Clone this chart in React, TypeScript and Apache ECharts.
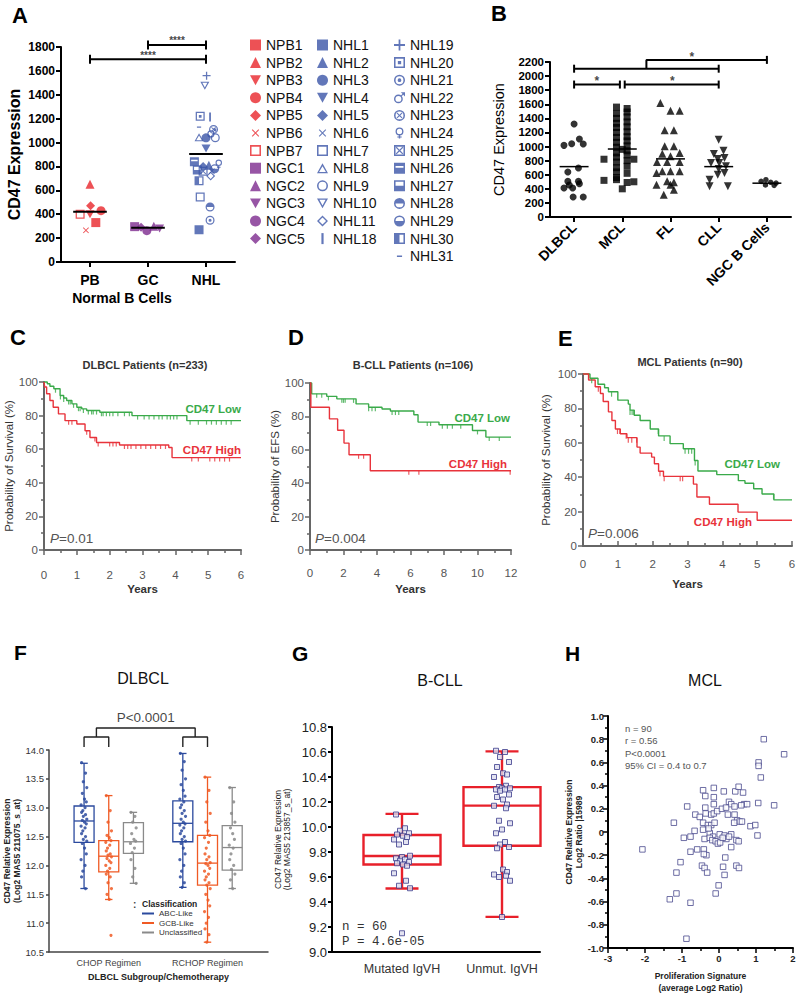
import { useEffect, useRef } from 'react';
import * as echarts from 'echarts';

const FONT = '"Liberation Sans", Arial, Helvetica, sans-serif';
const MONO = '"Liberation Mono", "DejaVu Sans Mono", monospace';
const RED = '#e8333b';
const GREEN = '#3aaa4a';

/* ---------------- Panel A ---------------- */
const A_CATEGORIES = ['PB', 'GC', 'NHL'];
const A_NAMES = ['NPB1', 'NPB2', 'NPB3', 'NPB4', 'NPB5', 'NPB6', 'NPB7', 'NGC1', 'NGC2', 'NGC3', 'NGC4', 'NGC5',
  'NHL1', 'NHL2', 'NHL3', 'NHL4', 'NHL5', 'NHL6', 'NHL7', 'NHL8', 'NHL9', 'NHL10', 'NHL11', 'NHL18',
  'NHL19', 'NHL20', 'NHL21', 'NHL22', 'NHL23', 'NHL24', 'NHL25', 'NHL26', 'NHL27', 'NHL28', 'NHL29', 'NHL30', 'NHL31'];
const A_GROUP = [1, 1, 1, 1, 1, 1, 1, 2, 2, 2, 2, 2, 3, 3, 3, 3, 3, 3, 3, 3, 3, 3, 3, 3, 3, 3, 3, 3, 3, 3, 3, 3, 3, 3, 3, 3, 3];
const A_VALUES = [330, 650, 400, 430, 470, 265, 400, 296, 300, 280, 262, 290,
  270, 810, 1040, 950, 800, 760, 545, 1045, 1040, 1475, 720, 1215,
  1560, 1220, 350, 1080, 1110, 820, 760, 840, 770, 460, 780, 680, 1130];
const A_JITTER = [0.10, 0, 0, 0.19, 0.01, -0.07, -0.17, -0.23, 0.10, 0.20, -0.02, -0.12,
  -0.12, 0.05, 0.0, 0.0, -0.05, 0.10, -0.10, -0.12, 0.16, -0.02, 0.08, 0.07,
  0.01, -0.10, 0.07, 0.10, 0.13, 0.22, -0.05, -0.20, -0.15, 0.07, 0.15, -0.12, -0.12];
const A_SYMBOL: Record<string, string> = {
  NPB1: 'sq', NPB2: 'tri', NPB3: 'dtri', NPB4: 'circ', NPB5: 'dia', NPB6: 'x', NPB7: 'osq',
  NGC1: 'sq', NGC2: 'tri', NGC3: 'dtri', NGC4: 'circ', NGC5: 'dia',
  NHL1: 'sq', NHL2: 'tri', NHL3: 'circ', NHL4: 'dtri', NHL5: 'dia', NHL6: 'x', NHL7: 'osq', NHL8: 'otri',
  NHL9: 'ocirc', NHL10: 'odtri', NHL11: 'odia', NHL18: 'vbar', NHL19: 'plus', NHL20: 'sqdot', NHL21: 'cdot',
  NHL22: 'male', NHL23: 'cx', NHL24: 'female', NHL25: 'sqx', NHL26: 'sq26', NHL27: 'sq27', NHL28: 'c28',
  NHL29: 'c29', NHL30: 'sq30', NHL31: 'hbar',
};
const A_MEANS = [420, 287, 904];
const A_SIG_FROM = [1, 2];
const A_SIG_TO = [3, 3];
const A_SIG_Y = [1697, 1817];
const A_SIG_LABEL = ['****', '****'];
const A_COLORS = ['#e8262b', '#7d2a8e', '#3b55a7'];

/* ---------------- Panel B ---------------- */
const B_CATEGORIES = ['DLBCL', 'MCL', 'FL', 'CLL', 'NGC B Cells'];
const B_DLBCL = [1320, 1017, 1040, 1107, 1036, 639, 695, 506, 506, 454, 473, 412, 412, 284, 284];
const B_DLBCL_JIT = [0.0, -0.21, -0.05, 0.11, 0.19, -0.13, 0.09, -0.13, 0.09, -0.1, 0.11, -0.21, -0.03, -0.02, 0.19];
const B_MCL = [1560, 1470, 1400, 1330, 1270, 1200, 1130, 1060, 990, 910, 850, 780, 700, 640, 560, 530,
  1540, 1490, 1420, 1350, 1280, 1210, 1140, 1080, 1010, 940, 880, 800, 720, 620, 490,
  820, 520, 400, 500, 820, 960];
const B_MCL_JIT = [-0.12, -0.12, -0.12, -0.12, -0.12, -0.12, -0.12, -0.12, -0.12, -0.12, -0.12, -0.12, -0.12, -0.12, -0.12, -0.12,
  0.1, 0.1, 0.1, 0.1, 0.1, 0.1, 0.1, 0.1, 0.1, 0.1, 0.1, 0.1, 0.1, 0.1, 0.1,
  -0.38, -0.38, 0.0, 0.24, 0.24, 0.0];
const B_FL = [1618, 1509, 1509, 1230, 1230, 1003, 1003, 899, 908, 861, 780, 780, 780, 648, 648, 648, 624, 506, 492, 459, 459, 317, 388];
const B_FL_JIT = [-0.21, 0, 0.19, -0.12, 0.07, -0.12, 0.07, -0.17, 0.19, 0, -0.28, -0.07, 0.19, -0.17, 0, 0.19, -0.29, -0.07, 0.07, -0.29, 0, -0.14, 0.07];
const B_CLL = [1098, 894, 941, 823, 837, 766, 766, 719, 681, 624, 600, 530, 435, 435];
const B_CLL_JIT = [0, -0.1, 0.1, -0.02, 0.12, -0.16, 0.01, 0.15, 0, 0.12, -0.02, -0.19, -0.19, 0.19];
const B_NGC = [506, 530, 492, 482, 449, 455];
const B_NGC_JIT = [-0.12, -0.02, 0.08, 0.19, 0.15, -0.03];
const B_MEANS = [715, 965, 825, 715, 480];
const B_SIG = [[0, 0.95, 1880], [1.05, 3, 1880], [0, 3, 2105]];
const B_SIG_LINK = [[1.5, 2105], [1.5, 2230], [4, 2230]];
const B_STARS = [[0.47, 1880], [2.04, 1880], [2.44, 2230]];

/* ---------------- Panels C, D, E (Kaplan-Meier) ---------------- */
const C_LOW = [[0, 100], [0.1, 99], [0.18, 97.5], [0.3, 96], [0.49, 92], [0.6, 90.5], [0.69, 89], [0.85, 87], [1.0, 85], [1.15, 84], [1.3, 83], [1.7, 82], [2.68, 80], [4.35, 77], [6, 77]];
const C_HIGH = [[0, 100], [0.02, 97], [0.08, 93], [0.18, 89], [0.28, 85], [0.44, 81], [0.64, 77], [1.0, 75], [1.25, 71], [1.4, 67], [1.6, 64], [2.3, 62.5], [3.8, 61], [3.9, 55], [6, 55]];
const C_LOW_CENSOR = [0.35, 0.5, 0.6, 0.75, 0.8, 0.9, 1.05, 1.1, 1.2, 1.35, 1.45, 1.5, 1.6, 1.75, 1.8, 1.9, 2.0, 2.1, 2.25, 2.45, 2.6, 2.85, 3.05, 3.2, 3.35, 3.5, 3.6, 3.75, 3.85, 3.95, 4.05, 4.45, 4.7, 4.95, 5.1, 5.25, 5.4, 5.55, 5.7];
const C_HIGH_CENSOR = [0.75, 0.85, 1.3, 1.55, 1.65, 2.0, 2.1, 2.2, 2.45, 2.55, 2.65, 2.8, 2.95, 3.1, 3.25, 3.4, 3.55, 3.7, 4.5, 4.7, 5.05, 5.2, 5.35, 5.5, 5.65];
const D_LOW = [[0, 100], [0.1, 93.5], [1.0, 92], [1.6, 90.5], [2.75, 87.5], [3.5, 85.5], [4.3, 84.4], [4.8, 83.2], [6.2, 81], [6.45, 76.6], [7.7, 75], [9.7, 71.6], [10.5, 67.6], [12, 67.6]];
const D_HIGH = [[0, 100], [0.05, 85.5], [1.16, 78.5], [1.65, 71.7], [2.03, 64], [2.33, 57], [3.6, 47.5], [12, 47.5]];
const D_LOW_CENSOR = [0.4, 0.7, 1.1, 1.9, 2.0, 2.1, 2.6, 3.5, 3.7, 3.9, 4.9, 5.1, 5.3, 7.0, 7.2, 7.9, 8.2, 8.5, 9.0, 10.0, 10.7, 11.3];
const D_HIGH_CENSOR = [2.9, 3.2, 5.9, 6.5, 11.95];
const E_LOW = [[0, 100], [0.2, 97.5], [0.43, 94], [0.62, 92], [0.73, 89.7], [1.0, 84.8], [1.3, 82.5], [1.35, 79], [1.47, 76], [1.64, 73], [1.93, 68], [2.17, 64], [2.5, 59.5], [2.88, 56.5], [3.2, 49.7], [3.3, 43.6], [3.84, 41.5], [4.46, 38], [4.65, 36.5], [4.9, 33.3], [5.14, 30.2], [5.48, 26.8], [6, 26.8]];
const E_HIGH = [[0, 100], [0.16, 96.5], [0.35, 92.6], [0.5, 88.7], [0.58, 84], [0.73, 78], [0.83, 73], [0.93, 68], [1.07, 65.3], [1.26, 63], [1.55, 57.5], [1.64, 54], [1.97, 51.7], [2.05, 47.8], [2.17, 43.5], [2.31, 40.5], [3.17, 36], [3.27, 28.5], [3.63, 24.3], [4.45, 19.7], [5.0, 15], [6, 15]];
const E_LOW_CENSOR = [0.25, 0.82, 1.35, 1.41, 1.46, 2.16, 2.33, 2.93, 3.03, 3.12, 3.22, 5.47];
const E_HIGH_CENSOR = [0.44, 0.99, 1.06, 1.24, 1.3, 1.4, 1.54, 2.21, 2.33, 2.79, 2.86];

/* ---------------- Panel F ---------------- */
const F_CLASSES = ['ABC-Like', 'GCB-Like', 'Unclassified'];
const F_REGIMENS = ['CHOP Regimen', 'RCHOP Regimen'];
const F_COLORS = ['#2b4a9e', '#f05a24', '#8a8a8a'];
// [lower whisker, Q1, median, Q3, upper whisker] for CHOP, RCHOP
const F_BOX_ABC = [[11.60, 12.40, 12.77, 13.03, 13.77], [11.62, 12.41, 12.73, 13.12, 13.94]];
const F_BOX_GCB = [[11.41, 11.89, 12.16, 12.43, 13.21], [10.67, 11.66, 12.04, 12.52, 13.53]];
const F_BOX_UNC = [[11.69, 12.21, 12.41, 12.74, 12.92], [11.60, 11.92, 12.31, 12.69, 13.35]];
const F_DOTS_ABC_CHOP = [13.78, 13.6, 13.45, 13.35, 13.25, 13.15, 13.1, 13.05, 13.0, 12.95, 12.92, 12.88, 12.85, 12.8, 12.78, 12.75, 12.72, 12.68, 12.65, 12.6, 12.55, 12.5, 12.45, 12.42, 12.38, 12.3, 12.2, 12.1, 12.0, 11.9, 11.8, 11.6];
const F_DOTS_GCB_CHOP = [13.21, 12.95, 12.75, 12.6, 12.52, 12.48, 12.43, 12.4, 12.35, 12.3, 12.25, 12.2, 12.18, 12.15, 12.12, 12.08, 12.05, 12.0, 11.95, 11.9, 11.85, 11.8, 11.7, 11.6, 11.5, 11.41, 10.79];
const F_DOTS_UNC_CHOP = [12.92, 12.85, 12.75, 12.65, 12.55, 12.45, 12.42, 12.38, 12.3, 12.22, 12.1, 11.95, 11.8, 11.69];
const F_DOTS_ABC_RCHOP = [13.94, 13.8, 13.65, 13.5, 13.4, 13.3, 13.2, 13.15, 13.1, 13.05, 13.0, 12.95, 12.9, 12.85, 12.8, 12.75, 12.72, 12.7, 12.65, 12.6, 12.55, 12.5, 12.45, 12.42, 12.38, 12.3, 12.2, 12.1, 12.0, 11.9, 11.8, 11.7, 11.62];
const F_DOTS_GCB_RCHOP = [13.53, 13.3, 13.1, 12.9, 12.75, 12.6, 12.52, 12.48, 12.4, 12.3, 12.2, 12.15, 12.1, 12.05, 12.03, 12.0, 11.95, 11.9, 11.85, 11.8, 11.75, 11.7, 11.66, 11.6, 11.5, 11.4, 11.3, 11.2, 11.1, 11.0, 10.9, 10.8, 10.67];
const F_DOTS_UNC_RCHOP = [13.35, 13.1, 12.9, 12.75, 12.65, 12.55, 12.45, 12.35, 12.3, 12.2, 12.1, 12.0, 11.93, 11.85, 11.75, 11.6];
const F_SLOTS = [[1, 5], [2, 6], [3, 7]];
const F_LABEL_SLOTS = [2, 6];
const F_JITTER = [-0.1, 0.06, -0.03, 0.11, -0.07, 0.02, 0.09, -0.12, 0.04, -0.05];

/* ---------------- Panel G ---------------- */
const G_GROUPS = ['Mutated IgVH', 'Unmut. IgVH'];
const G_BOXES = [[9.508, 9.70, 9.768, 9.936, 10.105], [9.281, 9.85, 10.171, 10.319, 10.605]];
const G_MUT = [10.10, 9.99, 9.97, 9.95, 9.94, 9.93, 9.92, 9.90, 9.88, 9.86, 9.77, 9.76, 9.75, 9.74, 9.73, 9.72, 9.71, 9.70, 9.69, 9.63, 9.57, 9.53, 9.51, 9.15];
const G_UNMUT = [10.61, 10.60, 10.56, 10.52, 10.48, 10.43, 10.42, 10.40, 10.33, 10.32, 10.31, 10.31, 10.30, 10.30, 10.29, 10.26, 10.24, 10.22, 10.18, 10.17, 10.15, 10.05, 10.03, 9.98, 9.95, 9.88, 9.86, 9.84, 9.83, 9.66, 9.64, 9.62, 9.61, 9.60, 9.57, 9.28];
const G_JITTER = [-0.06, 0.03, -0.02, 0.07, -0.05, 0.01, 0.05, -0.08, 0.04, -0.03, 0.08, 0.0];

/* ---------------- Panel H ---------------- */
const H_X = [1.21, 1.76, 1.07, 1.07, 1.13, -0.43, -0.14, 0.13, 0.44, 0.53, 0.65, -0.37, -0.14, -0.86, -0.37, -0.14, 0.27, 0.33, 0.42, 0.68,
  0.76, 1.06, 1.49, -0.64, -0.36, -0.21, -0.14, -0.05, 0.08, 0.24, 0.42, 0.49, 0.56, 0.41, 0.62, -1.22, -0.43, -0.30, -0.21, -0.12,
  0.85, 0.98, -0.66, -0.43, -0.25, -0.16, 0.02, 0.15, 0.33, 1.04, -0.95, -0.77, -0.39, -0.25, -0.18, -0.09, -0.03, 0.20, 0.27, 0.47,
  0.53, -2.07, -0.77, -0.59, -0.41, -0.34, 0.33, -1.04, -0.46, -0.39, -0.32, 0.17, 0.11, 0.47, 0.54, -1.15, 0.15, -0.01, -0.09, -1.15,
  -1.33, -0.77, -0.88, -0.41, 0.03, 0.10, -0.28, 0.19, 0.60, -0.52];
const H_Y = [0.80, 0.67, 0.60, 0.57, 0.47, 0.36, 0.38, 0.35, 0.35, 0.39, 0.34, 0.31, 0.30, 0.22, 0.21, 0.24, 0.26, 0.24, 0.22, 0.24,
  0.24, 0.25, 0.23, 0.15, 0.16, 0.15, 0.16, 0.18, 0.20, 0.15, 0.15, 0.10, 0.09, 0.08, 0.09, 0.08, 0.08, 0.06, 0.06, 0.08,
  0.05, 0.06, 0.01, 0.02, -0.01, -0.04, -0.02, -0.03, -0.02, -0.03, -0.05, -0.04, -0.06, -0.05, -0.07, -0.08, -0.10, -0.06, -0.04, -0.07,
  -0.08, -0.15, -0.17, -0.15, -0.15, -0.20, -0.13, -0.26, -0.29, -0.31, -0.35, -0.22, -0.30, -0.29, -0.31, -0.35, -0.37, -0.46, -0.53, -0.53,
  -0.58, -0.61, -0.92, -0.19, -0.09, -0.05, 0.03, 0.21, 0.23, 0.13];

/* ---------------- symbols ---------------- */
const RING = 'M5,0A5,5,0,1,1,5,10A5,5,0,1,1,5,0Z M5,1.4A3.6,3.6,0,1,0,5,8.6A3.6,3.6,0,1,0,5,1.4Z';
const SQ_RING = 'M0,0L10,0L10,10L0,10Z M1.4,1.4L1.4,8.6L8.6,8.6L8.6,1.4Z';
// microscopic corner specks that widen the bounding box so a glyph is drawn smaller within its symbol box
const PAD = 'M-2.5,-2.5L-2.49,-2.5L-2.5,-2.49Z M12.5,12.5L12.49,12.5L12.5,12.49Z ';
const SHAPES: Record<string, string> = {
  sq: 'rect', tri: 'triangle', circ: 'circle', dia: 'diamond',
  dtri: 'path://M0,0L10,0L5,9Z',
  x: 'path://' + PAD + 'M1,0L5,4L9,0L10,1L6,5L10,9L9,10L5,6L1,10L0,9L4,5L0,1Z',
  osq: 'path://' + SQ_RING,
  otri: 'path://M5,0L10,9L0,9Z M5,2.7L1.9,7.9L8.1,7.9Z',
  ocirc: 'path://' + RING,
  odtri: 'path://M0,0L10,0L5,9Z M2.2,1.1L5,6.3L7.8,1.1Z',
  odia: 'path://M5,0L10,5L5,10L0,5Z M5,1.8L1.8,5L5,8.2L8.2,5Z',
  vbar: 'path://M0,0L2,0L2,10L0,10Z',
  plus: 'path://M4.2,0L5.8,0L5.8,4.2L10,4.2L10,5.8L5.8,5.8L5.8,10L4.2,10L4.2,5.8L0,5.8L0,4.2L4.2,4.2Z',
  sqdot: 'path://' + SQ_RING + ' M3.5,3.5L6.5,3.5L6.5,6.5L3.5,6.5Z',
  cdot: 'path://' + RING + ' M5,3.3A1.7,1.7,0,1,1,5,6.7A1.7,1.7,0,1,1,5,3.3Z',
  male: 'path://M4,2A4,4,0,1,1,4,10A4,4,0,1,1,4,2Z M4,3.3A2.7,2.7,0,1,0,4,8.7A2.7,2.7,0,1,0,4,3.3Z M6.3,3L8.6,0.7L9.3,1.4L7,3.7Z M6.2,0L10,0L10,3.8L8.6,2.4L8.6,1.4L7.6,1.4Z',
  cx: 'path://' + RING + ' M3,2.3L5,4.3L7,2.3L7.7,3L5.7,5L7.7,7L7,7.7L5,5.7L3,7.7L2.3,7L4.3,5L2.3,3Z',
  female: 'path://M5,0A3.6,3.6,0,1,1,5,7.2A3.6,3.6,0,1,1,5,0Z M5,1.2A2.4,2.4,0,1,0,5,6A2.4,2.4,0,1,0,5,1.2Z M4.35,7L5.65,7L5.65,10L4.35,10Z M3,8.1L7,8.1L7,9.1L3,9.1Z',
  sqx: 'path://' + SQ_RING + ' M2.4,1.6L5,4.2L7.6,1.6L8.4,2.4L5.8,5L8.4,7.6L7.6,8.4L5,5.8L2.4,8.4L1.6,7.6L4.2,5L1.6,2.4Z',
  sq26: 'path://M0,0L10,0L10,10L0,10Z M1.4,3L1.4,4.6L8.6,4.6L8.6,3Z',
  sq27: 'path://M0,0L10,0L10,10L0,10Z M1.4,1.4L1.4,5L8.6,5L8.6,1.4Z',
  c28: 'path://' + RING + ' M1.4,5A3.6,3.6,0,0,1,8.6,5Z',
  c29: 'path://' + RING + ' M8.6,5A3.6,3.6,0,0,1,1.4,5Z',
  sq30: 'path://' + SQ_RING + ' M1.4,1.4L5,1.4L5,8.6L1.4,8.6Z',
  hbar: 'path://' + PAD + 'M1.5,4L8.5,4L8.5,6L1.5,6Z',
};
const SHAPE_SIZE: Record<string, number> = { plus: 8, vbar: 9 };

/* ---------------- helpers ---------------- */
function stepValue(curve: number[][], t: number) {
  let v = curve[0][1];
  for (const [tt, vv] of curve) { if (tt <= t) v = vv; else break; }
  return v;
}

function segment(idx: number, data: any[], color: string, width: number, extra: any = {}) {
  return {
    type: 'line', xAxisIndex: idx, yAxisIndex: idx, data, symbol: 'none', silent: true, clip: false,
    lineStyle: { color, width }, itemStyle: { color }, z: 5, ...extra,
  };
}

function textMark(idx: number, x: number, y: number, text: string, size: number, weight: string, dist: number) {
  return {
    type: 'scatter', xAxisIndex: idx, yAxisIndex: idx, data: [[x, y]], symbolSize: 0.1, silent: true, clip: false,
    itemStyle: { color: 'rgba(0,0,0,0)' },
    label: { show: true, position: 'top', distance: dist, formatter: text, fontSize: size, fontWeight: weight, color: '#111', fontFamily: FONT },
    z: 6,
  };
}

function kmSeries(idx: number, curve: number[][], censor: number[], color: string, tick: number) {
  return [
    { type: 'line', xAxisIndex: idx, yAxisIndex: idx, data: curve, step: 'end', symbol: 'none', silent: true, clip: false,
      lineStyle: { color, width: 1.4 }, itemStyle: { color }, z: 3 },
    { type: 'scatter', xAxisIndex: idx, yAxisIndex: idx, data: censor.map((t) => [t, stepValue(curve, t)]), silent: true, clip: false,
      symbol: 'rect', symbolSize: [1.2, tick], symbolOffset: [0, tick / 2], itemStyle: { color }, z: 3 },
  ];
}

function boxRenderer(halfW: number, capHalf: number, lw: number) {
  return (params: any, api: any) => {
    const x = api.value(0);
    const lo = api.value(1), q1 = api.value(2), med = api.value(3), q3 = api.value(4), hi = api.value(5);
    const color = api.visual('color');
    const pLo = api.coord([x, lo]);
    const pHi = api.coord([x, hi]);
    const tl = api.coord([x - halfW, q3]);
    const br = api.coord([x + halfW, q1]);
    const mL = api.coord([x - halfW, med]);
    const mR = api.coord([x + halfW, med]);
    const cL = api.coord([x - capHalf, lo])[0];
    const cR = api.coord([x + capHalf, lo])[0];
    const style = { stroke: color, lineWidth: lw, fill: 'none' };
    return {
      type: 'group',
      children: [
        { type: 'line', shape: { x1: pLo[0], y1: pLo[1], x2: pLo[0], y2: br[1] }, style },
        { type: 'line', shape: { x1: pHi[0], y1: pHi[1], x2: pHi[0], y2: tl[1] }, style },
        { type: 'line', shape: { x1: cL, y1: pLo[1], x2: cR, y2: pLo[1] }, style },
        { type: 'line', shape: { x1: cL, y1: pHi[1], x2: cR, y2: pHi[1] }, style },
        { type: 'rect', shape: { x: tl[0], y: tl[1], width: br[0] - tl[0], height: br[1] - tl[1] }, style },
        { type: 'line', shape: { x1: mL[0], y1: mL[1], x2: mR[0], y2: mR[1] }, style },
      ],
    };
  };
}

function txt(x: number, y: number, text: string, o: any = {}) {
  const size = o.size ?? 12;
  const align = o.align ?? 'left';
  const va = o.va ?? 'middle';
  const style: any = {
    text, fontSize: size, fontWeight: o.weight ?? 'normal', fontFamily: o.family ?? FONT, fontStyle: 'normal',
    fill: o.color ?? '#000', align, verticalAlign: va, textAlign: align, textVerticalAlign: va,
  };
  if (o.rich) style.rich = o.rich;
  return { type: 'text', x, y, silent: true, style };
}

function pText(x: number, y: number, rest: string) {
  return txt(x, y, '{i|P}' + rest, {
    size: 13.5, color: '#555',
    rich: { i: { fontStyle: 'italic', fontSize: 13.5, fontFamily: FONT, fill: '#555', color: '#555' } },
  });
}

function valueAxis(idx: number, o: any) {
  const color = o.color ?? '#000';
  const lw = o.lineWidth ?? 2;
  return {
    gridIndex: idx, type: 'value', min: o.min, max: o.max, interval: o.interval,
    axisLine: { show: true, onZero: false, lineStyle: { color, width: lw } },
    axisTick: { show: o.tick !== false, inside: !!o.inside, length: o.tickLen ?? 5, lineStyle: { color, width: o.tickWidth ?? lw }, ...(o.tickValues ? { customValues: o.tickValues } : {}) },
    minorTick: { show: !!o.minor, splitNumber: 2, length: 3, lineStyle: { color, width: o.tickWidth ?? lw } },
    splitLine: { show: false },
    axisLabel: {
      show: true, fontSize: o.labelSize ?? 12, fontWeight: o.labelWeight ?? 'normal', color: o.labelColor ?? '#000',
      margin: o.margin ?? 6, fontFamily: FONT, rotate: o.rotate ?? 0,
      ...(o.labelValues ? { customValues: o.labelValues } : {}),
      formatter: o.formatter ?? ((v: number) => String(v)),
    },
    name: o.name ?? '', nameLocation: 'middle', nameGap: o.nameGap ?? 20, nameRotate: o.nameRotate,
    nameTextStyle: { fontSize: o.nameSize ?? 12, fontWeight: o.nameWeight ?? 'normal', color: o.nameColor ?? '#000', fontFamily: FONT, lineHeight: o.nameLineHeight },
  };
}

function buildOption() {
  const series: any[] = [];

  /* ---- A ---- */
  A_NAMES.forEach((name, i) => {
    const g = A_GROUP[i];
    const key = A_SYMBOL[name];
    series.push({
      type: 'scatter', name, xAxisIndex: 0, yAxisIndex: 0, data: [[g + A_JITTER[i], A_VALUES[i]]],
      symbol: SHAPES[key], symbolSize: SHAPE_SIZE[key] ?? 9, symbolKeepAspect: true, silent: true, clip: false,
      itemStyle: { color: A_COLORS[g - 1] }, z: 4,
    });
  });
  A_MEANS.forEach((m, i) => series.push(segment(0, [[i + 1 - 0.29, m], [i + 1 + 0.29, m]], '#000', 2)));
  A_SIG_Y.forEach((y, i) => {
    series.push(segment(0, [[A_SIG_FROM[i], y], [A_SIG_TO[i], y]], '#000', 2, { symbol: 'rect', symbolSize: [2, 9] }));
    series.push(textMark(0, (A_SIG_FROM[i] + A_SIG_TO[i]) / 2, y, A_SIG_LABEL[i], 10, 'bold', -1));
  });

  /* ---- B ---- */
  const bSets = [[B_DLBCL, B_DLBCL_JIT], [B_MCL, B_MCL_JIT], [B_FL, B_FL_JIT], [B_CLL, B_CLL_JIT], [B_NGC, B_NGC_JIT]];
  const bShapes = ['circ', 'sq', 'tri', 'dtri', 'circ'];
  const bSizes = [7, 7, 8, 8, 5.5];
  bSets.forEach(([vals, jit], c) => {
    series.push({
      type: 'scatter', xAxisIndex: 1, yAxisIndex: 1, data: vals.map((v, i) => [c + jit[i], v]),
      symbol: SHAPES[bShapes[c]], symbolSize: bSizes[c], silent: true, clip: false, itemStyle: { color: '#000' }, z: 4,
    });
  });
  B_MEANS.forEach((m, c) => series.push(segment(1, [[c - 0.3, m], [c + 0.3, m]], '#000', 1.5)));
  B_SIG.forEach(([a, b, y]) => series.push(segment(1, [[a, y], [b, y]], '#000', 2, { symbol: 'rect', symbolSize: [2, 8] })));
  series.push(segment(1, B_SIG_LINK.map((p, i) => (i === B_SIG_LINK.length - 1 ? { value: p, symbol: 'rect', symbolSize: [2, 8] } : { value: p })), '#000', 2, { symbol: 'none', showSymbol: true }));
  B_STARS.forEach(([x, y]) => series.push(textMark(1, x, y, '*', 12, 'bold', -3)));

  /* ---- C, D, E ---- */
  series.push(...kmSeries(2, C_LOW, C_LOW_CENSOR, GREEN, 4), ...kmSeries(2, C_HIGH, C_HIGH_CENSOR, RED, 4));
  series.push(...kmSeries(3, D_LOW, D_LOW_CENSOR, GREEN, 4), ...kmSeries(3, D_HIGH, D_HIGH_CENSOR, RED, 4));
  series.push(...kmSeries(4, E_LOW, E_LOW_CENSOR, GREEN, 5), ...kmSeries(4, E_HIGH, E_HIGH_CENSOR, RED, 5));

  /* ---- F ---- */
  const fBoxes = [F_BOX_ABC, F_BOX_GCB, F_BOX_UNC];
  const fDots = [[F_DOTS_ABC_CHOP, F_DOTS_ABC_RCHOP], [F_DOTS_GCB_CHOP, F_DOTS_GCB_RCHOP], [F_DOTS_UNC_CHOP, F_DOTS_UNC_RCHOP]];
  F_CLASSES.forEach((cls, c) => {
    series.push({
      type: 'custom', name: cls, xAxisIndex: 5, yAxisIndex: 5, silent: true, clip: false,
      data: fBoxes[c].map((b, r) => [F_SLOTS[c][r], ...b]),
      encode: { x: 0, y: [1, 2, 3, 4, 5] },
      renderItem: boxRenderer(0.405, 0.15, 1.3), itemStyle: { color: F_COLORS[c] }, z: 2,
    });
    const pts: number[][] = [];
    fDots[c].forEach((vals, r) => vals.forEach((v, i) => pts.push([F_SLOTS[c][r] + F_JITTER[i % F_JITTER.length], v])));
    series.push({
      type: 'scatter', name: cls, xAxisIndex: 5, yAxisIndex: 5, data: pts, symbol: 'circle', symbolSize: 3.2,
      silent: true, clip: false, itemStyle: { color: F_COLORS[c], opacity: 0.85 }, z: 3,
    });
  });
  const fb = '#222';
  series.push(segment(5, [[1, 14.05], [1, 14.225], [2, 14.225], [2, 14.05]], fb, 1.4));
  series.push(segment(5, [[5, 14.05], [5, 14.225], [6, 14.225], [6, 14.05]], fb, 1.4));
  series.push(segment(5, [[1.5, 14.225], [1.5, 14.38], [5.5, 14.38], [5.5, 14.225]], fb, 1.4));
  series.push({ ...textMark(5, 3.5, 14.38, 'P<0.0001', 13.5, 'normal', 4) });

  /* ---- G ---- */
  series.push({
    type: 'custom', xAxisIndex: 6, yAxisIndex: 6, silent: true, clip: false,
    data: G_BOXES.map((b, i) => [i + 1, ...b]), encode: { x: 0, y: [1, 2, 3, 4, 5] },
    renderItem: boxRenderer(0.385, 0.165, 2.4), itemStyle: { color: '#e8202a' }, z: 2,
  });
  [G_MUT, G_UNMUT].forEach((vals, g) => {
    series.push({
      type: 'scatter', xAxisIndex: 6, yAxisIndex: 6, data: vals.map((v, i) => [g + 1 + G_JITTER[i % G_JITTER.length], v]),
      symbol: 'rect', symbolSize: 5, silent: true, clip: false,
      itemStyle: { color: '#dcdcee', borderColor: '#3c3c8c', borderWidth: 1 }, z: 3,
    });
  });

  /* ---- H ---- */
  series.push({
    type: 'scatter', xAxisIndex: 7, yAxisIndex: 7, data: H_X.map((x, i) => [x, H_Y[i]]), symbol: 'rect', symbolSize: 5.5,
    silent: true, clip: false, itemStyle: { color: '#ffffff', borderColor: '#4b4b8f', borderWidth: 1 }, z: 3,
  });

  const grids = [
    { left: 61, top: 47, width: 174, height: 215 },
    { left: 550, top: 62, width: 241, height: 155 },
    { left: 44, top: 382, width: 197, height: 168 },
    { left: 310, top: 383, width: 201, height: 167 },
    { left: 583, top: 374, width: 209, height: 172 },
    { left: 49, top: 750, width: 219, height: 202 },
    { left: 332, top: 727, width: 208, height: 225 },
    { left: 608, top: 716, width: 185, height: 232 },
  ];

  const kmGray = '#666';
  const xAxis = [
    valueAxis(0, { min: 0.5, max: 3.5, tickValues: [1, 2, 3], labelValues: [1, 2, 3], labelSize: 14, labelWeight: 'bold', margin: 11,
      formatter: (v: number) => (Number.isInteger(v) ? A_CATEGORIES[v - 1] ?? '' : '') }),
    valueAxis(1, { min: -0.5, max: 4.5, tickValues: [0, 1, 2, 3, 4], labelValues: [0, 1, 2, 3, 4], labelSize: 14, labelWeight: 'bold', rotate: 45, margin: 8,
      formatter: (v: number) => (Number.isInteger(v) ? B_CATEGORIES[v] ?? '' : '') }),
    valueAxis(2, { min: 0, max: 6, interval: 1, minor: true, color: kmGray, labelColor: '#555', labelSize: 11.5, margin: 19, tickWidth: 1.5,
      name: 'Years', nameGap: 33, nameSize: 11.5, nameWeight: 'bold', nameColor: '#333' }),
    valueAxis(3, { min: 0, max: 12, interval: 2, minor: true, color: kmGray, labelColor: '#555', labelSize: 11.5, margin: 17, tickWidth: 1.5,
      name: 'Years', nameGap: 33, nameSize: 11.5, nameWeight: 'bold', nameColor: '#333' }),
    valueAxis(4, { min: 0, max: 6, interval: 1, minor: true, inside: true, color: kmGray, labelColor: '#555', labelSize: 11.5, margin: 12, tickWidth: 1.5,
      name: 'Years', nameGap: 32, nameSize: 11.5, nameWeight: 'bold', nameColor: '#333' }),
    valueAxis(5, { min: -0.42, max: 8.45, tick: false, labelValues: F_LABEL_SLOTS, color: '#444', lineWidth: 1.5, labelColor: '#444', labelSize: 9, margin: 6,
      formatter: (v: number) => { const k = F_LABEL_SLOTS.indexOf(v); return k >= 0 ? F_REGIMENS[k] : ''; },
      name: 'DLBCL Subgroup/Chemotherapy', nameGap: 20, nameSize: 9, nameWeight: 'bold', nameColor: '#222' }),
    valueAxis(6, { min: 0.3, max: 2.38, tick: false, labelValues: [1, 2], labelSize: 12.5, labelColor: '#333', margin: 10,
      formatter: (v: number) => (Number.isInteger(v) ? G_GROUPS[v - 1] ?? '' : '') }),
    valueAxis(7, { min: -3, max: 2, interval: 1, minor: true, labelSize: 9.5, labelWeight: 'bold', labelColor: '#222', margin: 5, tickWidth: 1.5,
      name: 'Proliferation Signature\n(average Log2 Ratio)', nameGap: 22, nameSize: 8.5, nameWeight: 'bold', nameColor: '#222', nameLineHeight: 12 }),
  ];
  const yAxis = [
    valueAxis(0, { min: 0, max: 1800, interval: 200, labelSize: 12, labelWeight: 'bold', margin: 6,
      name: 'CD47 Expression', nameGap: 39, nameSize: 16, nameWeight: 'bold' }),
    valueAxis(1, { min: 0, max: 2200, interval: 200, labelSize: 11.5, labelWeight: 'bold', margin: 6,
      name: 'CD47 Expression', nameGap: 44, nameSize: 14.5 }),
    valueAxis(2, { min: 0, max: 100, interval: 20, minor: true, color: kmGray, labelColor: '#555', labelSize: 11.5, margin: 6, tickWidth: 1.5,
      name: 'Probability of Survival (%)', nameGap: 26, nameSize: 11.5, nameColor: '#333' }),
    valueAxis(3, { min: 0, max: 100, interval: 20, minor: true, color: kmGray, labelColor: '#555', labelSize: 11.5, margin: 6, tickWidth: 1.5,
      name: 'Probability of EFS (%)', nameGap: 25, nameSize: 11.5, nameColor: '#333' }),
    valueAxis(4, { min: 0, max: 100, interval: 20, minor: true, color: kmGray, labelColor: '#555', labelSize: 11.5, margin: 6, tickWidth: 1.5,
      name: 'Probability of Survival (%)', nameGap: 31, nameSize: 11.5, nameColor: '#333' }),
    valueAxis(5, { min: 10.5, max: 14, interval: 0.5, color: '#444', lineWidth: 1.5, labelColor: '#333', labelSize: 9.5, margin: 5, tickLen: 3,
      formatter: (v: number) => v.toFixed(1),
      name: 'CD47 Relative Expression\n(Log2 MAS5 211075_s_at)', nameGap: 22, nameSize: 8.5, nameWeight: 'bold', nameColor: '#222', nameLineHeight: 10 }),
    valueAxis(6, { min: 9.0, max: 10.8, interval: 0.2, labelSize: 13, labelColor: '#222', margin: 5, tickLen: 4,
      formatter: (v: number) => v.toFixed(1),
      name: 'CD47 Relative Expression\n(Log2 MAS5 213857_s_at)', nameGap: 41, nameSize: 8.5, nameColor: '#222', nameLineHeight: 9 }),
    valueAxis(7, { min: -1, max: 1, interval: 0.2, minor: true, labelSize: 9.5, labelWeight: 'bold', labelColor: '#222', margin: 4, tickWidth: 1.5,
      formatter: (v: number) => (Math.abs(v) < 1e-9 ? '0' : v.toFixed(1)),
      name: 'CD47 Relative Expression\nLog2 Ratio |15989', nameGap: 24, nameSize: 8.5, nameWeight: 'bold', nameColor: '#222', nameLineHeight: 10 }),
  ];

  const legendBase = {
    orient: 'vertical', itemWidth: 11, itemHeight: 11, itemGap: 3.6, padding: 0, selectedMode: false,
    textStyle: { fontSize: 14, color: '#111', lineHeight: 14, fontFamily: FONT },
  };
  const legend = [
    { ...legendBase, left: 250, top: 38, data: A_NAMES.slice(0, 12) },
    { ...legendBase, left: 317, top: 38, data: A_NAMES.slice(12, 24) },
    { ...legendBase, left: 394, top: 38, data: A_NAMES.slice(24) },
    { orient: 'vertical', left: 142, top: 909, padding: 0, selectedMode: false, icon: 'rect', itemWidth: 12, itemHeight: 2, itemGap: 0.5,
      data: F_CLASSES, textStyle: { fontSize: 8, color: '#333', lineHeight: 9, fontFamily: FONT } },
  ];

  const graphic = [
    txt(12, 15, 'A', { size: 22, weight: 'bold' }),
    txt(491, 13, 'B', { size: 22, weight: 'bold' }),
    txt(10, 337, 'C', { size: 22, weight: 'bold' }),
    txt(288, 337, 'D', { size: 22, weight: 'bold' }),
    txt(558, 338, 'E', { size: 22, weight: 'bold' }),
    txt(14, 652, 'F', { size: 21, weight: 'bold' }),
    txt(292, 653, 'G', { size: 21, weight: 'bold' }),
    txt(565, 653, 'H', { size: 21, weight: 'bold' }),
    txt(122, 298, 'Normal B Cells', { size: 14, weight: 'bold', align: 'center' }),
    txt(145, 365, 'DLBCL Patients (n=233)', { size: 11, weight: 'bold', color: '#333', align: 'center' }),
    txt(413, 365, 'B-CLL Patients (n=106)', { size: 11, weight: 'bold', color: '#333', align: 'center' }),
    txt(690, 362, 'MCL Patients (n=90)', { size: 11, weight: 'bold', color: '#333', align: 'center' }),
    pText(50, 538, '=0.01'),
    pText(315, 538, '=0.004'),
    pText(588, 533, '=0.006'),
    txt(241, 409, 'CD47 Low', { size: 11.5, weight: 'bold', color: GREEN, align: 'right' }),
    txt(241, 450, 'CD47 High', { size: 11.5, weight: 'bold', color: RED, align: 'right' }),
    txt(510, 418, 'CD47 Low', { size: 11.5, weight: 'bold', color: GREEN, align: 'right' }),
    txt(507, 464, 'CD47 High', { size: 11.5, weight: 'bold', color: RED, align: 'right' }),
    txt(780, 464, 'CD47 Low', { size: 11.5, weight: 'bold', color: GREEN, align: 'right' }),
    txt(752, 522, 'CD47 High', { size: 11.5, weight: 'bold', color: RED, align: 'right' }),
    txt(143, 678, 'DLBCL', { size: 16, color: '#111', align: 'center' }),
    txt(133, 904, ':', { size: 10, weight: 'bold', color: '#444' }),
    txt(142, 904, 'Classification', { size: 8.5, weight: 'bold', color: '#222' }),
    txt(440, 680, 'B-CLL', { size: 16, color: '#111', align: 'center' }),
    txt(342, 927, 'n = 60', { size: 12.5, family: MONO, color: '#333' }),
    txt(342, 942, 'P = 4.6e-05', { size: 12.5, family: MONO, color: '#333' }),
    txt(705, 680, 'MCL', { size: 16, color: '#111', align: 'center' }),
    txt(625, 728, 'n = 90', { size: 9.5, color: '#555' }),
    txt(625, 740, 'r = 0.56', { size: 9.5, color: '#555' }),
    txt(625, 753, 'P<0.0001', { size: 9.5, color: '#555' }),
    txt(625, 765, '95% CI = 0.4 to 0.7', { size: 9.5, color: '#555' }),
  ];

  return {
    animation: false,
    backgroundColor: '#ffffff',
    textStyle: { fontFamily: FONT },
    grid: grids,
    xAxis,
    yAxis,
    legend,
    graphic: { elements: graphic },
    series,
  };
}

export default function App() {
  const ref = useRef<HTMLDivElement>(null);
  useEffect(() => {
    if (!ref.current) return;
    const chart = echarts.init(ref.current, undefined, { renderer: 'svg', width: 800, height: 998 });
    chart.setOption(buildOption() as any);
    return () => chart.dispose();
  }, []);
  return (
    <div
      ref={ref}
      style={{ position: 'absolute', left: 0, top: 0, width: 800, height: 998, background: '#fff' }}
    />
  );
}
